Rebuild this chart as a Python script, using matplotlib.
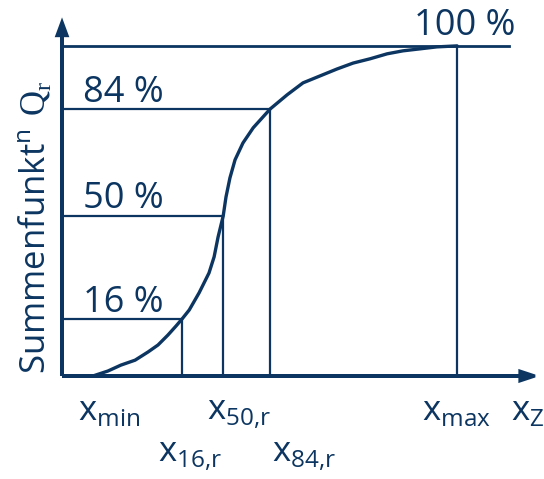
import matplotlib.pyplot as plt

# Farbe und Schrift wie im Original
navy = '#0c3661'
plt.rcParams['font.family'] = ['Open Sans', 'DejaVu Sans']
plt.rcParams['mathtext.fontset'] = 'custom'
plt.rcParams['mathtext.rm'] = 'Open Sans'
plt.rcParams['mathtext.sf'] = 'Liberation Serif'

# Summenkurve (x relativ zu x_max = 100, y in %)
curve_x = [7.8, 11.6, 14.9, 18.5, 21.8, 24.3, 26.8, 28.9, 30.4, 32.2, 34.7, 37.2,
           38.5, 39.5, 40.8, 41.5, 42.5, 43.8, 45.8, 48.4, 52.7, 57.0, 61.0, 65.3,
           69.6, 73.7, 78.0, 82.3, 86.3, 90.6, 94.9, 100.0]
curve_y = [0.0, 1.5, 3.3, 4.8, 7.3, 9.4, 12.4, 15.2, 17.3, 20.0, 25.2, 31.2,
           36.1, 42.1, 48.5, 54.2, 60.0, 65.5, 70.6, 75.2, 80.9, 85.2, 88.8, 90.9,
           93.0, 94.8, 96.1, 97.6, 98.5, 99.1, 99.7, 100.0]

# Kennwerte
level_y = [17.3, 48.5, 80.9, 100.0]
level_x = [30.4, 40.8, 52.7, 100.0]
level_labels = ['16 %', '50 %', '84 %', '100 %']
x_labels = [r'$\mathrm{x}_{\mathrm{min}}$', r'$\mathrm{x}_{\mathrm{16{,}r}}$',
            r'$\mathrm{x}_{\mathrm{50{,}r}}$', r'$\mathrm{x}_{\mathrm{84{,}r}}$',
            r'$\mathrm{x}_{\mathrm{max}}$', r'$\mathrm{x}_{\mathrm{Z}}$']

fig = plt.figure(figsize=(5.44, 4.79), dpi=100)
ax = fig.add_axes([0, 0, 1, 1])
ax.set_xlim(-15.7, 122.0)
ax.set_ylim(-31.2, 113.9)
ax.axis('off')

# Achsen mit Pfeilen
ax.arrow(0, 0, 0, 107.3, width=0.0, head_width=2.6, head_length=4.2,
         length_includes_head=True, color=navy, lw=2.2)
ax.arrow(0, 0, 119.7, 0, width=0.0, head_width=3.0, head_length=3.8,
         length_includes_head=True, color=navy, lw=2.2)

# Hilfslinien
for lx, ly in zip(level_x[:3], level_y[:3]):
    ax.plot([0, lx], [ly, ly], color=navy, lw=1.6)
    ax.plot([lx, lx], [0, ly], color=navy, lw=1.6)
ax.plot([0, 113.2], [100, 100], color=navy, lw=2.0)
ax.plot([100, 100], [0, 100], color=navy, lw=1.6)

# Kurve
ax.plot(curve_x, curve_y, color=navy, lw=2.4, solid_joinstyle='round',
        solid_capstyle='round')

# Prozentangaben
pct_pos = [(5.3, 19.3), (5.3, 50.9), (5.3, 83.0), (89.1, 103.3)]
for (tx, ty), txt in zip(pct_pos, level_labels):
    ax.text(tx, ty, txt, color=navy, fontsize=26, ha='left', va='baseline')

# Beschriftung der x-Achse
lab_pos = [(4.1, -13.3), (24.3, -26.1), (36.7, -13.3), (53.2, -26.1),
           (91.1, -13.3), (113.7, -13.3)]
for (tx, ty), txt in zip(lab_pos, x_labels):
    ax.text(tx, ty, txt, color=navy, fontsize=25, ha='left', va='baseline')

# y-Achsentitel
ax.text(-4.1, 0.5, r'$\mathrm{Summenfunkt}^{\mathrm{n}}\ \mathsf{Q}_{\mathsf{r}}$',
        color=navy, fontsize=25, rotation=90, rotation_mode='anchor',
        ha='left', va='baseline')

fig.savefig('out.png', dpi=100)
